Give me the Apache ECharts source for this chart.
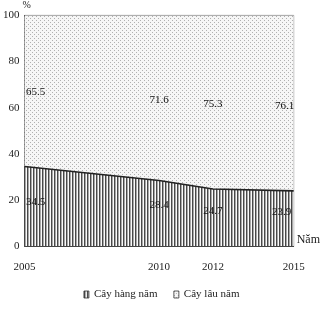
<!DOCTYPE html>
<html><head><meta charset="utf-8">
<script src="https://cdn.jsdelivr.net/npm/echarts@6/dist/echarts.min.js"></script>
<style>html,body{margin:0;padding:0;background:#fff}#c{width:323px;height:309px}</style>
</head><body><div id="c"></div>
<script>
// ---- data ----
const years = [2005, 2010, 2012, 2015];
const cayHangNam = [34.5, 28.4, 24.7, 23.9];
const cayLauNam = [65.5, 71.6, 75.3, 76.1];
const seriesNames = ['Cây hàng năm', 'Cây lâu năm'];
const yTicks = [0, 20, 40, 60, 80, 100];

// ---- patterns ----
function stripePattern() {
  const c = document.createElement('canvas'); c.width = 3; c.height = 3;
  const g = c.getContext('2d');
  g.fillStyle = '#fafafa'; g.fillRect(0, 0, 3, 3);
  g.fillStyle = '#484848'; g.fillRect(0, 0, 1, 3);
  g.fillStyle = '#a8a8a8'; g.fillRect(1, 0, 1, 3);
  return { image: c, repeat: 'repeat' };
}
function dotPattern() {
  const c = document.createElement('canvas'); c.width = 4; c.height = 4;
  const g = c.getContext('2d');
  g.fillStyle = '#f6f6f6'; g.fillRect(0, 0, 4, 4);
  g.fillStyle = '#b0b0b0'; g.fillRect(0, 0, 1, 1); g.fillRect(2, 2, 1, 1);
  return { image: c, repeat: 'repeat' };
}
const stripe = stripePattern();
const dots = dotPattern();

const font = 'Liberation Serif';
const lowerLabelOffsets = [[11, 36], [0, 25], [0, 22], [-12, 21]];
const upperLabelOffsets = [[11, 77], [0, 85], [0, 89], [-9, 91]];

// value first, year second, so the stacked dimension is the share (y)
function build(vals, offs) {
  return vals.map((v, i) => ({
    value: [v, years[i]],
    label: { offset: offs[i] }
  }));
}

const chart = echarts.init(document.getElementById('c'), null, { renderer: 'canvas' });
chart.setOption({
  animation: false,
  textStyle: { fontFamily: font },
  grid: { left: 22, right: 28, top: 14, bottom: 63, show: true, borderColor: '#8a8a8a', borderWidth: 1, backgroundColor: 'transparent' },
  xAxis: {
    type: 'value', min: years[0], max: years[years.length - 1],
    name: 'Năm', nameLocation: 'end', nameGap: 3,
    nameTextStyle: { fontFamily: font, fontSize: 12, color: '#222', align: 'left', verticalAlign: 'bottom', padding: [0, 0, 0, 0] },
    axisLine: { show: true, lineStyle: { color: '#444', width: 1 } },
    axisTick: { show: false },
    splitLine: { show: false },
    axisLabel: { customValues: years, fontFamily: font, fontSize: 11, color: '#222', margin: 16, formatter: v => String(v) }
  },
  yAxis: {
    type: 'value', min: 0, max: 100, interval: 20,
    name: '%', nameLocation: 'end', nameGap: 2,
    nameTextStyle: { fontFamily: font, fontSize: 10, color: '#222', align: 'left', padding: [0, 0, 0, -2] },
    axisLine: { show: true, lineStyle: { color: '#444', width: 1 } },
    axisTick: { show: false },
    splitLine: { show: false },
    axisLabel: { fontFamily: font, fontSize: 11, color: '#222', margin: 5 }
  },
  legend: {
    top: 284, left: 'center', itemWidth: 5, itemHeight: 7, itemGap: 16,
    icon: 'rect',
    textStyle: { fontFamily: font, fontSize: 11, color: '#222' },
    data: [
      { name: seriesNames[0], itemStyle: { color: stripe, borderColor: '#333', borderWidth: 0.8 } },
      { name: seriesNames[1], itemStyle: { color: dots, borderColor: '#333', borderWidth: 0.8 } }
    ]
  },
  series: [
    {
      name: seriesNames[0], type: 'line', stack: 'total',
      encode: { x: 1, y: 0 },
      data: build(cayHangNam, lowerLabelOffsets),
      symbol: 'circle', symbolSize: 0, showSymbol: true,
      itemStyle: { color: stripe },
      lineStyle: { color: '#222', width: 1.6 },
      areaStyle: { color: stripe, opacity: 1 },
      label: { show: true, position: 'inside', fontFamily: font, fontSize: 11, color: '#111', formatter: p => p.value[0].toFixed(1) },
      z: 3
    },
    {
      name: seriesNames[1], type: 'line', stack: 'total',
      encode: { x: 1, y: 0 },
      data: build(cayLauNam, upperLabelOffsets),
      symbol: 'circle', symbolSize: 0, showSymbol: true,
      itemStyle: { color: dots },
      lineStyle: { width: 0, color: 'transparent' },
      areaStyle: { color: dots, opacity: 1 },
      label: { show: true, position: 'inside', fontFamily: font, fontSize: 11, color: '#111', formatter: p => p.value[0].toFixed(1) },
      z: 2
    }
  ]
});
</script></body></html>
